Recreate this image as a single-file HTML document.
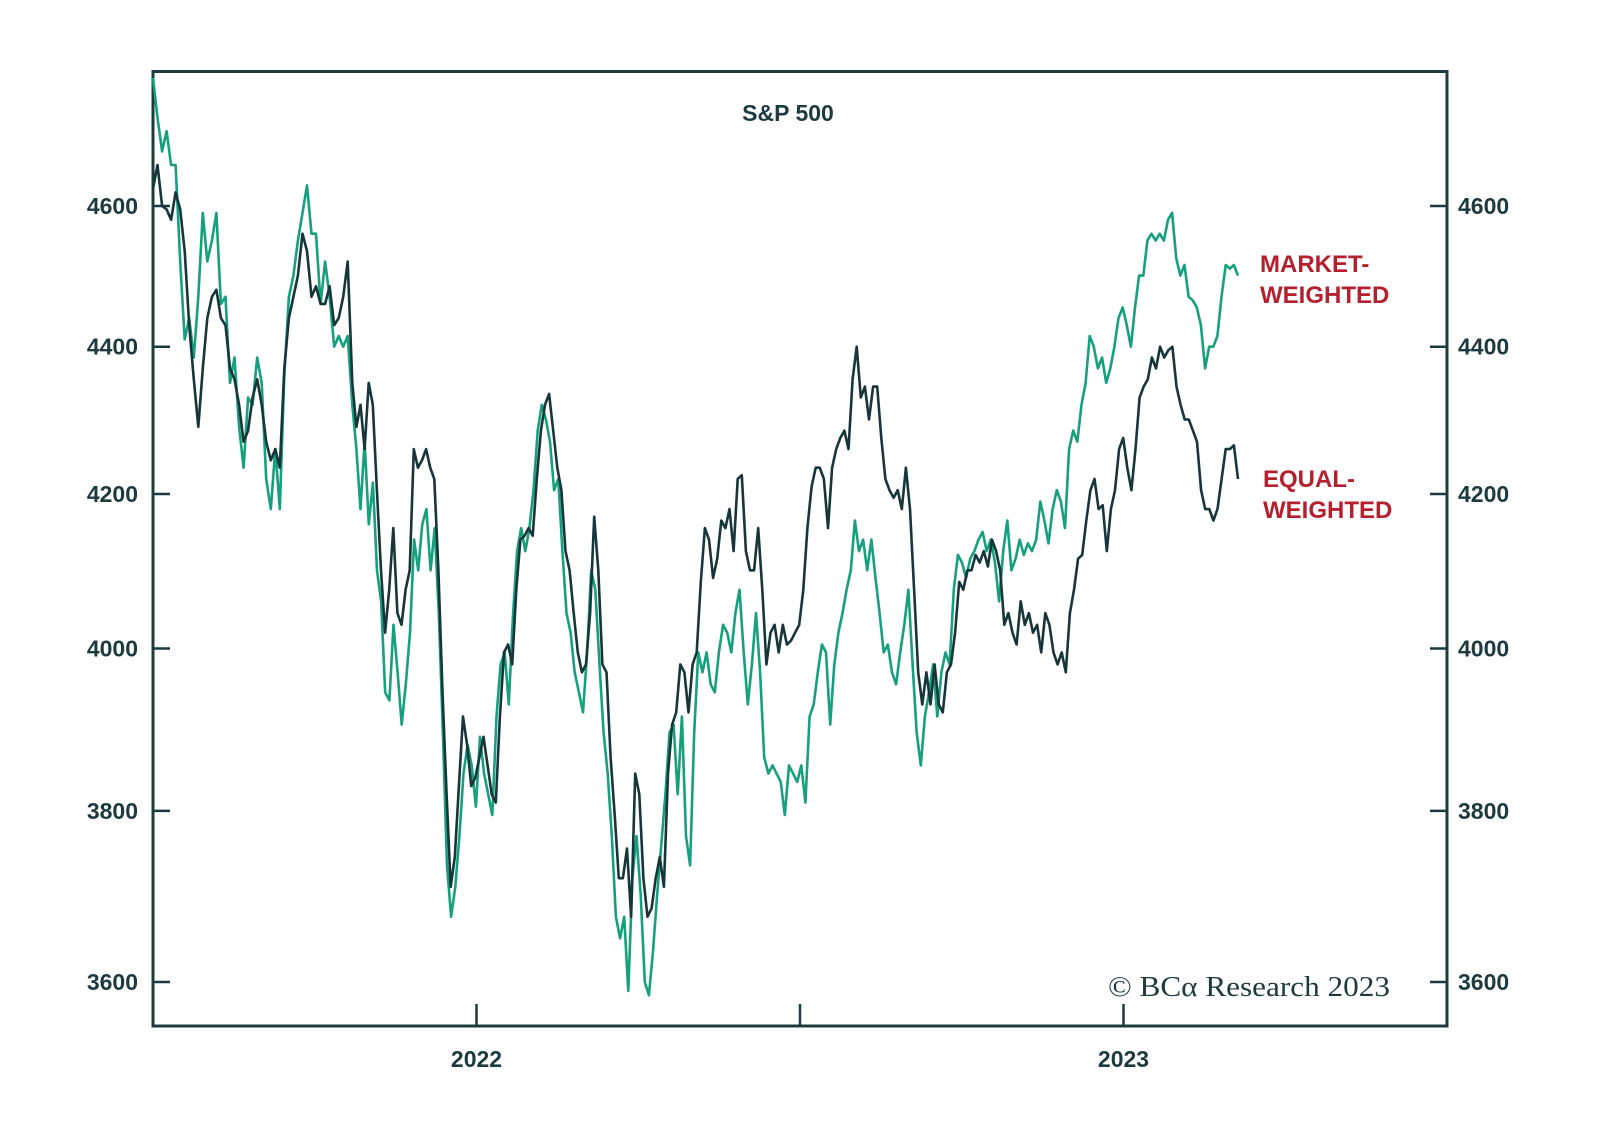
<!DOCTYPE html>
<html><head><meta charset="utf-8">
<style>
html,body{margin:0;padding:0;background:#fff;}
svg{display:block;}
</style></head>
<body>
<svg id="chart" width="1600" height="1132" viewBox="0 0 1600 1132" xmlns="http://www.w3.org/2000/svg" font-family="'Liberation Sans', sans-serif">
<rect x="0" y="0" width="1600" height="1132" fill="#fff"/>
<g id="axes"></g>
<g id="series"></g>
<text x="788" y="121" text-anchor="middle" font-size="23" font-weight="bold" fill="#1d3b3f">S&amp;P 500</text>
<text x="1260" y="272" font-size="24" font-weight="bold" fill="#b5202e">MARKET-</text>
<text x="1260" y="303" font-size="24" font-weight="bold" fill="#b5202e">WEIGHTED</text>
<text x="1263" y="487" font-size="24" font-weight="bold" fill="#b5202e">EQUAL-</text>
<text x="1263" y="518" font-size="24" font-weight="bold" fill="#b5202e">WEIGHTED</text>
<text x="1390" y="996" text-anchor="end" font-size="28" font-family="'Liberation Serif', serif" fill="#1d3b3f" textLength="282" lengthAdjust="spacingAndGlyphs">© BCα Research 2023</text>
</svg>
<script>
const startYear = 2021.5;
const knotIndex = 44;
const knotYear = 2021.808;
const endYear = 2023.177;
const yTicks = [3600, 3800, 4000, 4200, 4400, 4600];
const xTickYears = [2022, 2022.5, 2023];
const xTickLabels = ["2022", "", "2023"];
const marketWeighted = [4790,4730,4680,4710,4660,4660,4520,4410,4440,4385,4470,4590,4520,4550,4590,4460,4470,4350,4385,4290,4235,4330,4320,4385,4350,4220,4180,4260,4180,4360,4470,4500,4550,4590,4630,4560,4560,4460,4520,4470,4400,4415,4400,4415,4320,4260,4180,4270,4160,4215,4100,4060,3945,3935,4030,3970,3905,3955,4020,4140,4100,4160,4180,4100,4155,4045,3895,3735,3675,3710,3770,3845,3880,3855,3805,3890,3845,3820,3795,3915,3980,3995,3930,4040,4125,4155,4125,4155,4205,4285,4320,4300,4270,4205,4220,4125,4045,4020,3970,3945,3920,3995,4100,4075,3980,3895,3845,3770,3675,3650,3675,3590,3720,3770,3700,3600,3585,3635,3700,3760,3820,3895,3905,3820,3915,3770,3735,3895,3995,3970,3995,3955,3945,3995,4030,4020,3995,4045,4075,3995,3930,3980,4045,3970,3865,3845,3855,3845,3835,3795,3855,3845,3835,3855,3810,3915,3930,3970,4005,3995,3905,3980,4020,4045,4075,4100,4165,4125,4140,4100,4140,4090,4045,3995,4005,3970,3955,3995,4030,4075,3980,3895,3855,3915,3945,3980,3915,3970,3995,3980,4075,4120,4110,4090,4115,4125,4140,4150,4125,4140,4110,4060,4125,4165,4100,4115,4140,4120,4135,4125,4140,4190,4165,4135,4180,4205,4190,4155,4260,4285,4270,4320,4350,4415,4400,4370,4385,4350,4370,4400,4440,4455,4430,4400,4455,4500,4500,4550,4560,4550,4560,4550,4580,4590,4525,4500,4515,4470,4465,4455,4430,4370,4400,4400,4415,4470,4515,4510,4515,4500];
const equalWeighted = [4625,4660,4600,4595,4580,4620,4595,4535,4430,4355,4290,4370,4440,4470,4480,4440,4430,4370,4355,4320,4270,4285,4330,4355,4320,4270,4245,4260,4235,4370,4440,4470,4500,4560,4535,4470,4485,4460,4460,4485,4430,4440,4470,4520,4350,4290,4320,4260,4350,4320,4205,4100,4020,4075,4155,4045,4030,4075,4100,4260,4235,4245,4260,4235,4220,4100,3945,3820,3710,3745,3830,3915,3880,3830,3840,3865,3890,3855,3820,3810,3915,3995,4005,3980,4075,4140,4145,4155,4145,4220,4285,4320,4335,4285,4235,4205,4125,4100,4045,3995,3970,3980,4045,4170,4100,3980,3970,3865,3795,3720,3720,3755,3675,3845,3820,3720,3675,3685,3720,3745,3710,3845,3905,3920,3980,3970,3920,3980,3995,4085,4155,4140,4090,4115,4165,4155,4180,4125,4220,4225,4125,4100,4100,4155,4075,3980,4020,4030,3995,4030,4005,4010,4020,4030,4075,4155,4210,4235,4235,4220,4155,4235,4260,4275,4285,4260,4355,4400,4330,4345,4300,4345,4345,4275,4220,4205,4195,4205,4180,4235,4180,4075,3970,3930,3970,3930,3980,3930,3920,3970,3980,4020,4085,4075,4100,4100,4120,4110,4125,4105,4140,4125,4100,4030,4045,4020,4005,4060,4030,4045,4020,4030,3995,4045,4030,3995,3980,3995,3970,4045,4075,4115,4120,4165,4205,4220,4180,4185,4125,4180,4205,4260,4275,4235,4205,4260,4330,4345,4355,4385,4370,4400,4385,4395,4400,4345,4320,4300,4300,4285,4270,4205,4180,4180,4165,4180,4220,4260,4260,4265,4220];

const NS = "http://www.w3.org/2000/svg";
const L = 153, R = 1447, T = 71.5, B = 1026;
const DARK = "#1d3b3f";
function yScale(v){ return 206 + 3166 * Math.log(4600 / v); }
function xScale(t){ return L + (t - startYear) * 647; }
function indexToYear(i, n){
  if (i <= knotIndex) return startYear + (knotYear - startYear) * i / knotIndex;
  return knotYear + (endYear - knotYear) * (i - knotIndex) / (n - 1 - knotIndex);
}
function mk(tag, attrs, parent){
  const el = document.createElementNS(NS, tag);
  for (const k in attrs) el.setAttribute(k, attrs[k]);
  parent.appendChild(el);
  return el;
}
const axes = document.getElementById("axes");
const series = document.getElementById("series");

const frame = mk("rect", {x:L, y:T, width:R-L, height:B-T, fill:"none", stroke:DARK, "stroke-width":3}, axes);



yTicks.forEach(v => {
  const y = yScale(v);
  const tl = mk("line", {x1:L, x2:L+17, y1:y, y2:y, stroke:DARK, "stroke-width":2.5}, axes);
  
  
  const tr = mk("line", {x1:R-17, x2:R, y1:y, y2:y, stroke:DARK, "stroke-width":2.5}, axes);
  
  
  const lab = mk("text", {x:138, y:y+8, "text-anchor":"end", "font-size":23, "font-weight":"bold", fill:DARK}, axes);
  lab.textContent = v;
  
  
  const lab2 = mk("text", {x:1458, y:y+8, "text-anchor":"start", "font-size":23, "font-weight":"bold", fill:DARK}, axes);
  lab2.textContent = v;
  
  
});

xTickYears.forEach((t, i) => {
  const x = xScale(t);
  const tk = mk("line", {x1:x, x2:x, y1:B-22, y2:B, stroke:DARK, "stroke-width":2.5}, axes);
  
  
  if (xTickLabels[i]) {
    const lab = mk("text", {x:x, y:1067, "text-anchor":"middle", "font-size":23, "font-weight":"bold", fill:DARK}, axes);
    lab.textContent = xTickLabels[i];
    
    
  }
});

function drawSeries(vals, color, name){
  const n = vals.length;
  const pts = vals.map((v, i) => xScale(indexToYear(i, n)).toFixed(1) + "," + yScale(v).toFixed(1));
  const p = mk("polyline", {points:pts.join(" "), fill:"none", stroke:color, "stroke-width":2.6, "stroke-linejoin":"round"}, series);
  
  
}
drawSeries(marketWeighted, "#17a07e", "market-weighted-line");
drawSeries(equalWeighted, "#17363a", "equal-weighted-line");
</script>
</body></html>
